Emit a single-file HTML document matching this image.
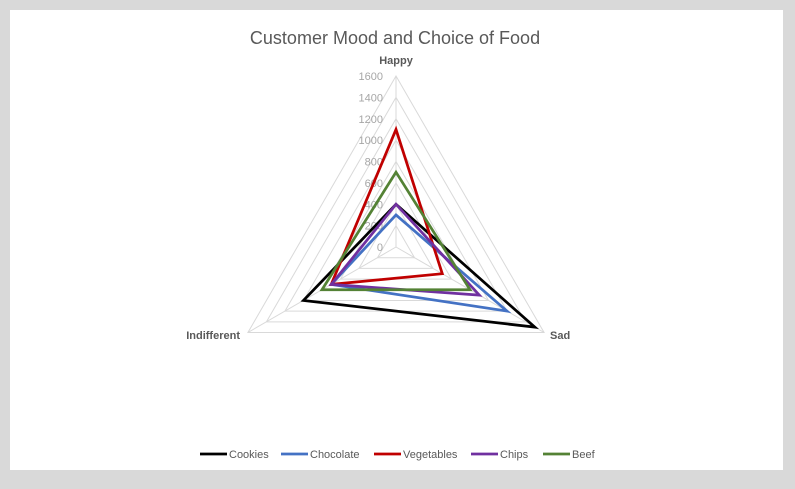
<!DOCTYPE html>
<html><head><meta charset="utf-8"><style>
html,body{margin:0;padding:0;background:#fff}
#chart{position:relative;width:795px;height:489px;background:#d9d9d9}
#inner{position:absolute;left:10px;top:10px;width:773px;height:460px;background:#fff}
svg{position:absolute;left:0;top:0}
text{font-family:"Liberation Sans",sans-serif}
</style></head><body>
<div id="chart">
<div id="inner"></div>
<svg id="svg" width="795" height="489">
<text x="395" y="44" text-anchor="middle" font-size="18" fill="#595959">Customer Mood and Choice of Food</text>
</svg>
</div>
<script>
const categories=["Happy","Sad","Indifferent"];
const seriesNames=["Cookies","Chocolate","Vegetables","Chips","Beef"];
const colors=["#000000","#4472c4","#c00000","#7030a0","#548235"];
const cookies=[400,1500,1000];
const chocolate=[300,1200,700];
const vegetables=[1100,500,700];
const chips=[400,900,700];
const beef=[700,800,800];
const ticks=[0,200,400,600,800,1000,1200,1400,1600];
const series=[cookies,chocolate,vegetables,chips,beef];
const cx=396,cy=247,R=171,maxV=1600;
const NS="http://www.w3.org/2000/svg";
const svg=document.getElementById('svg');
function ang(i){return -Math.PI/2+i*2*Math.PI/categories.length;}
function pt(i,v){const r=v/maxV*R;return [cx+r*Math.cos(ang(i)),cy+r*Math.sin(ang(i))];}
function mk(tag,attrs){const e=document.createElementNS(NS,tag);for(const k in attrs)e.setAttribute(k,attrs[k]);svg.appendChild(e);return e;}
ticks.forEach(t=>{
  if(t===0)return;
  const p=categories.map((c,i)=>pt(i,t).join(',')).join(' ');
  const g=mk('polygon',{points:p,fill:'none',stroke:'#d9d9d9','stroke-width':1});
  
  
});
categories.forEach((c,i)=>{
  const [x,y]=pt(i,maxV);
  const l=mk('line',{x1:cx,y1:cy,x2:x,y2:y,stroke:'#d9d9d9','stroke-width':1});
  
  
});
ticks.forEach(t=>{
  const [x,y]=pt(0,t);
  const tx=mk('text',{x:x-13,y:y+4,'text-anchor':'end','font-size':11,fill:'#a6a6a6'});
  tx.textContent=t;
  
  
});
series.forEach((s,k)=>{
  const p=s.map((v,i)=>pt(i,v).join(',')).join(' ');
  const g=mk('polygon',{points:p,fill:'none',stroke:colors[k],'stroke-width':2.75,'stroke-linejoin':'miter'});
  
  
});
const catPos=[[396,64,'middle'],[550,339,'start'],[240,339,'end']];
categories.forEach((c,i)=>{
  const t=mk('text',{x:catPos[i][0],y:catPos[i][1],'text-anchor':catPos[i][2],'font-size':11,'font-weight':'bold',fill:'#595959'});
  t.textContent=c;
  
  
});
const legendX=[200,281,374,471,543];
seriesNames.forEach((n,k)=>{
  const x=legendX[k];
  const l=mk('line',{x1:x,y1:454,x2:x+27,y2:454,stroke:colors[k],'stroke-width':2.75});
  
  
  const t=mk('text',{x:x+29,y:458,'font-size':11,fill:'#595959'});
  t.textContent=n;
  
  
});
</script>
</body></html>
